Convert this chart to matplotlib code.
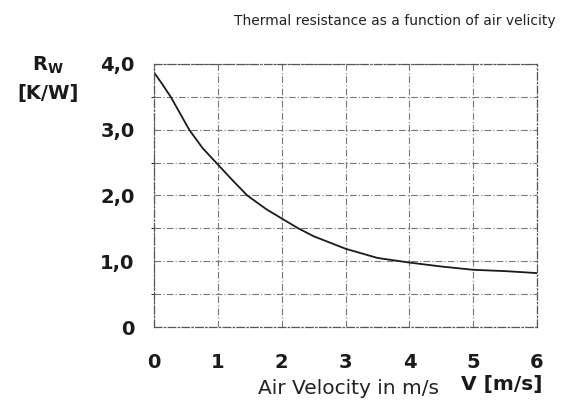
import matplotlib
matplotlib.use("Agg")
import matplotlib.pyplot as plt

# values
velocity = [0, 0.13, 0.26, 0.40, 0.55, 0.76, 1.0, 1.23, 1.46, 1.76, 2.0,
            2.26, 2.5, 3.0, 3.5, 4.0, 4.5, 5.0, 5.5, 6.0]
resistance = [3.87, 3.69, 3.5, 3.26, 3.0, 2.72, 2.47, 2.23, 2.0, 1.79, 1.65,
              1.5, 1.38, 1.19, 1.05, 0.98, 0.92, 0.87, 0.85, 0.82]

x_ticks = [0, 1, 2, 3, 4, 5, 6]
y_ticks = [0, 1, 2, 3, 4]
y_labels = ["0", "1,0", "2,0", "3,0", "4,0"]

fig = plt.figure(figsize=(5.75, 4.01), dpi=100)
ax = fig.add_axes([0.268, 0.1845, 0.666, 0.656])

ax.plot(velocity, resistance, color="#1a1a1a", linewidth=1.3)

ax.set_xlim(0, 6)
ax.set_ylim(0, 4)
ax.set_xticks(x_ticks)
ax.set_yticks(y_ticks)
ax.set_xticklabels([str(t) for t in x_ticks])
ax.set_yticklabels(y_labels)
ax.set_yticks([0.5, 1.5, 2.5, 3.5], minor=True)
ax.tick_params(length=0, labelsize=14, colors="#1a1a1a")
ax.tick_params(axis="y", pad=14)
ax.tick_params(axis="x", pad=19)
for lab in ax.get_xticklabels() + ax.get_yticklabels():
    lab.set_fontweight("bold")

ax.grid(which="both", color="#777777", linestyle=(0, (6, 2, 1, 2)), linewidth=0.8)
for s in ax.spines.values():
    s.set_color("#555555")
    s.set_linestyle((0, (6, 2, 1, 2)))
    s.set_linewidth(0.9)

fig.text(0.686, 0.948, "Thermal resistance as a function of air velicity",
         ha="center", va="center", fontsize=10, family="DejaVu Sans", color="#222222")
fig.text(0.606, 0.032, "Air Velocity in m/s", ha="center", va="center",
         fontsize=14.5, family="DejaVu Sans", color="#222222")
fig.text(0.872, 0.042, "V [m/s]", ha="center", va="center", fontsize=14.5,
         fontweight="bold", color="#1a1a1a")
fig.text(0.083, 0.838, r"R$_\mathbf{W}$", ha="center", va="center", fontsize=14,
         fontweight="bold", color="#1a1a1a")
fig.text(0.083, 0.766, "[K/W]", ha="center", va="center", fontsize=14,
         fontweight="bold", color="#1a1a1a")

fig.savefig("out.png", dpi=100)
